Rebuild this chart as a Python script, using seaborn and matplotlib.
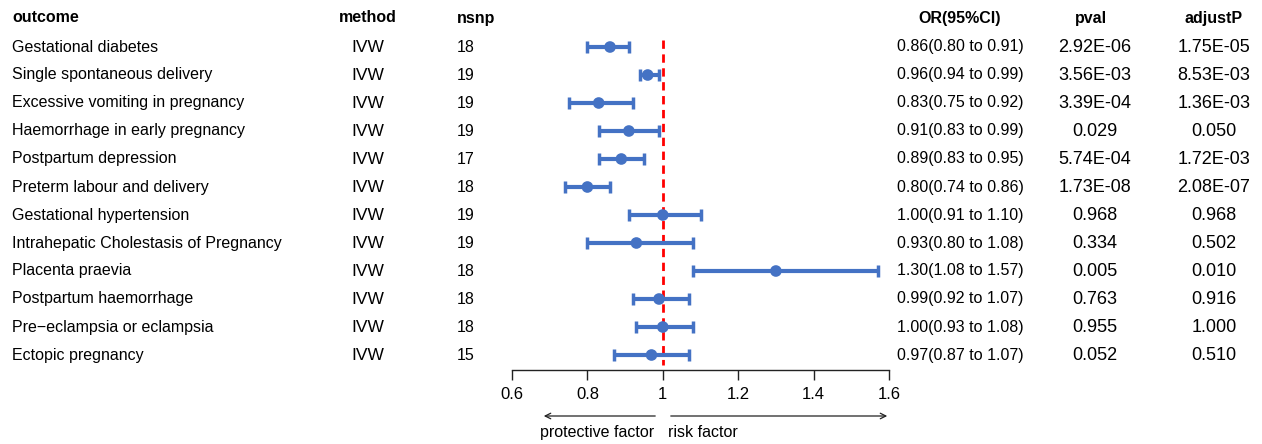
import pandas as pd
import seaborn as sns
import matplotlib.pyplot as plt
import matplotlib.transforms as mtrans
from matplotlib.patches import FancyArrowPatch

outcome = ['Gestational diabetes', 'Single spontaneous delivery', 'Excessive vomiting in pregnancy',
           'Haemorrhage in early pregnancy', 'Postpartum depression', 'Preterm labour and delivery',
           'Gestational hypertension', 'Intrahepatic Cholestasis of Pregnancy', 'Placenta praevia',
           'Postpartum haemorrhage', 'Pre\u2212eclampsia or eclampsia', 'Ectopic pregnancy']
method = ['IVW'] * 12
nsnp = [18, 19, 19, 19, 17, 18, 19, 19, 18, 18, 18, 15]
or_val = [0.86, 0.96, 0.83, 0.91, 0.89, 0.80, 1.00, 0.93, 1.30, 0.99, 1.00, 0.97]
or_lo = [0.80, 0.94, 0.75, 0.83, 0.83, 0.74, 0.91, 0.80, 1.08, 0.92, 0.93, 0.87]
or_hi = [0.91, 0.99, 0.92, 0.99, 0.95, 0.86, 1.10, 1.08, 1.57, 1.07, 1.08, 1.07]
pval = ['2.92E-06', '3.56E-03', '3.39E-04', '0.029', '5.74E-04', '1.73E-08',
        '0.968', '0.334', '0.005', '0.763', '0.955', '0.052']
adjustP = ['1.75E-05', '8.53E-03', '1.36E-03', '0.050', '1.72E-03', '2.08E-07',
           '0.968', '0.502', '0.010', '0.916', '1.000', '0.510']
xticks = [0.6, 0.8, 1.0, 1.2, 1.4, 1.6]
xticklabels = ['0.6', '0.8', '1', '1.2', '1.4', '1.6']

df = pd.DataFrame({'outcome': outcome, 'OR': or_val, 'lo': or_lo, 'hi': or_hi})
df['row'] = range(len(df))
df['label'] = [f"{o:.2f}({l:.2f} to {h:.2f})" for o, l, h in zip(or_val, or_lo, or_hi)]

sns.set_theme(style="white")
plt.rcParams['font.family'] = ['Liberation Sans', 'DejaVu Sans']
plt.rcParams['text.color'] = 'black'
plt.rcParams['xtick.color'] = 'black'

W, H = 1262, 444
fig = plt.figure(figsize=(W / 100, H / 100), dpi=100)
ax = fig.add_axes([512 / W, 1 - 370 / H, (889 - 512) / W, (370 - 33) / H])

blue = '#4472C4'
ax.plot([1, 1], [-0.25, 11.35], color='red', lw=2, ls=(0, (3, 2)), zorder=1)
ax.errorbar(df['OR'], df['row'], xerr=[df['OR'] - df['lo'], df['hi'] - df['OR']],
            fmt='none', ecolor=blue, elinewidth=3, capsize=4, capthick=2.5, zorder=2)
sns.scatterplot(data=df, x='OR', y='row', color=blue, s=70, edgecolor='none', ax=ax, zorder=3)

ax.set_xlim(0.6, 1.6)
ax.set_ylim((370 - 47) / 28, -0.5)
ax.set_xticks(xticks)
ax.set_xticklabels(xticklabels, fontsize=12)
ax.set_yticks([])
ax.set_xlabel('')
ax.set_ylabel('')
for s in ['top', 'right', 'left']:
    ax.spines[s].set_visible(False)
ax.spines['bottom'].set_color('#222222')
ax.spines['bottom'].set_linewidth(1)
ax.tick_params(axis='x', bottom=True, direction='out', length=7, width=1, color='#222222', pad=5)
ax.patch.set_alpha(0)

# table columns: x in pixels, y in data rows
def fx(px):
    return px / W

trans = mtrans.blended_transform_factory(fig.transFigure, ax.transData)

hy = 1 - 18 / H
fig.text(fx(12), hy, 'outcome', fontsize=11.5, fontweight='bold', va='center')
fig.text(fx(368), hy, 'method', fontsize=11.5, fontweight='bold', va='center', ha='center')
fig.text(fx(457), hy, 'nsnp', fontsize=11.5, fontweight='bold', va='center')
fig.text(fx(960), hy, 'OR(95%CI)', fontsize=11.5, fontweight='bold', va='center', ha='center')
fig.text(fx(1091), hy, 'pval', fontsize=11.5, fontweight='bold', va='center', ha='center')
fig.text(fx(1214), hy, 'adjustP', fontsize=11.5, fontweight='bold', va='center', ha='center')

for i in range(len(df)):
    ax.text(fx(12), i, outcome[i], transform=trans, fontsize=11.5, va='center')
    ax.text(fx(368), i, method[i], transform=trans, fontsize=12.5, va='center', ha='center')
    ax.text(fx(457), i, str(nsnp[i]), transform=trans, fontsize=11.5, va='center')
    ax.text(fx(897), i, df['label'][i], transform=trans, fontsize=11.5, va='center')
    ax.text(fx(1095), i, pval[i], transform=trans, fontsize=13, va='center', ha='center')
    ax.text(fx(1214), i, adjustP[i], transform=trans, fontsize=13, va='center', ha='center')

# direction arrows
ya = 1 - 416 / H
for a, b in [(658, 541), (668, 890)]:
    fig.patches.append(FancyArrowPatch((fx(a), ya), (fx(b), ya), transform=fig.transFigure,
                                       arrowstyle='->', mutation_scale=10, lw=0.9, color='#222222'))
fig.text(fx(540), 1 - 432 / H, 'protective factor', fontsize=11.5, va='center')
fig.text(fx(668), 1 - 432 / H, 'risk factor', fontsize=11.5, va='center')

plt.savefig('out.png', dpi=100)
